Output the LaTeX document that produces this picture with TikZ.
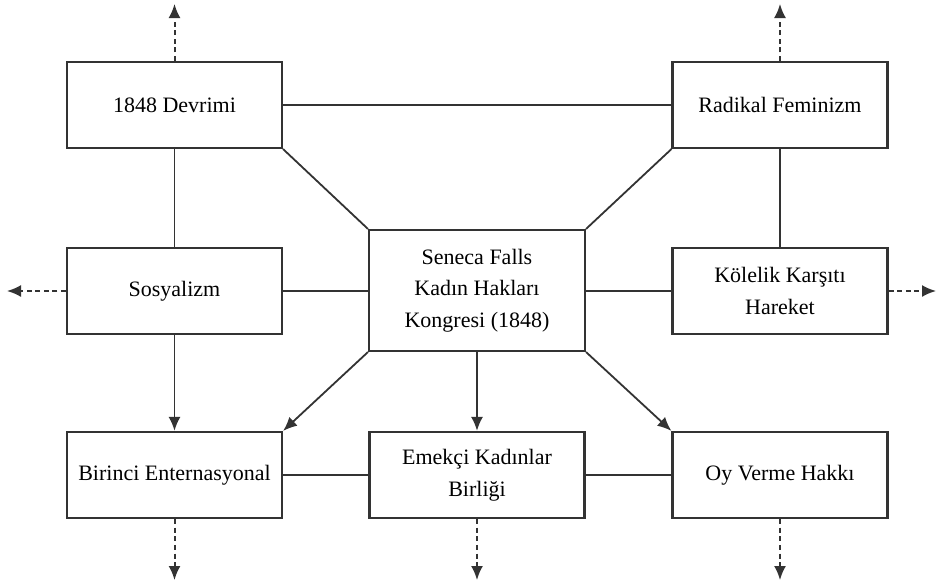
\documentclass[tikz,border=0pt]{standalone}
\usepackage{fontspec}
\setmainfont{Liberation Serif}
\usetikzlibrary{arrows.meta}
\begin{document}
\begin{tikzpicture}[x = .5pt, y = -.5pt,
    box/.style = {draw = black!80, line width = 1.1pt, fill = white,
                  minimum width = 107.5pt, minimum height = 43pt,
                  align = center, inner sep = 2pt,
                  font = \fontsize{11}{15.75}\selectfont},
    link/.style = {draw = black!80, line width = .9pt},
    lead/.style = {link, -{Latex[length = 7pt, width = 6pt]}},
    beyond/.style = {link, line width = 1pt, dash pattern = on 2.5pt off 1.8pt,
                  -{Latex[length = 7pt, width = 6pt]}}]
  \useasboundingbox (0, 0) rectangle (939, 584);
  % boxes
  \node[box] (devrim)  at (174.5, 105)   {1848 Devrimi};
  \node[box] (radikal) at (780, 105)     {Radikal Feminizm};
  \node[box] (sosyal)  at (174.5, 291)   {Sosyalizm};
  \node[box, minimum width = 108pt, minimum height = 60.5pt]
               (seneca)  at (477, 290.5) {Seneca Falls\\Kadın Hakları\\Kongresi (1848)};
  \node[box] (kolelik) at (780, 291)     {Kölelik Karşıtı\\Hareket};
  \node[box] (birinci) at (174.5, 475)   {Birinci Enternasyonal};
  \node[box] (emekci)  at (477, 475)     {Emekçi Kadınlar\\Birliği};
  \node[box] (oy)      at (780, 475)     {Oy Verme Hakkı};
  % free ends
  \coordinate (devrimUp)  at (174.5, 4);
  \coordinate (radikalUp) at (780, 4);
  \coordinate (sosyalOut) at (7, 291);
  \coordinate (kolelikOut) at (936, 291);
  \coordinate (birinciDn) at (174.5, 580);
  \coordinate (emekciDn)  at (477, 580);
  \coordinate (oyDn)      at (780, 580);
  % plain lines
  \draw[link] (devrim) -- (radikal);
  \draw[link] (devrim) -- (sosyal);
  \draw[link] (radikal) -- (kolelik);
  \draw[link] (devrim.south east) -- (seneca.north west);
  \draw[link] (radikal.south west) -- (seneca.north east);
  \draw[link] (sosyal) -- (sosyal -| seneca.west);
  \draw[link] (kolelik) -- (kolelik -| seneca.east);
  \draw[link] (birinci) -- (emekci);
  \draw[link] (emekci) -- (oy);
  % arrows
  \draw[lead] (sosyal) -- (birinci);
  \draw[lead] (seneca) -- (emekci);
  \draw[lead] (seneca.south west) -- (birinci.north east);
  \draw[lead] (seneca.south east) -- (oy.north west);
  % dashed arrows out
  \draw[beyond] (devrim) -- (devrimUp);
  \draw[beyond] (radikal) -- (radikalUp);
  \draw[beyond] (sosyal) -- (sosyalOut);
  \draw[beyond] (kolelik) -- (kolelikOut);
  \draw[beyond] (birinci) -- (birinciDn);
  \draw[beyond] (emekci) -- (emekciDn);
  \draw[beyond] (oy) -- (oyDn);
\end{tikzpicture}
\end{document}
